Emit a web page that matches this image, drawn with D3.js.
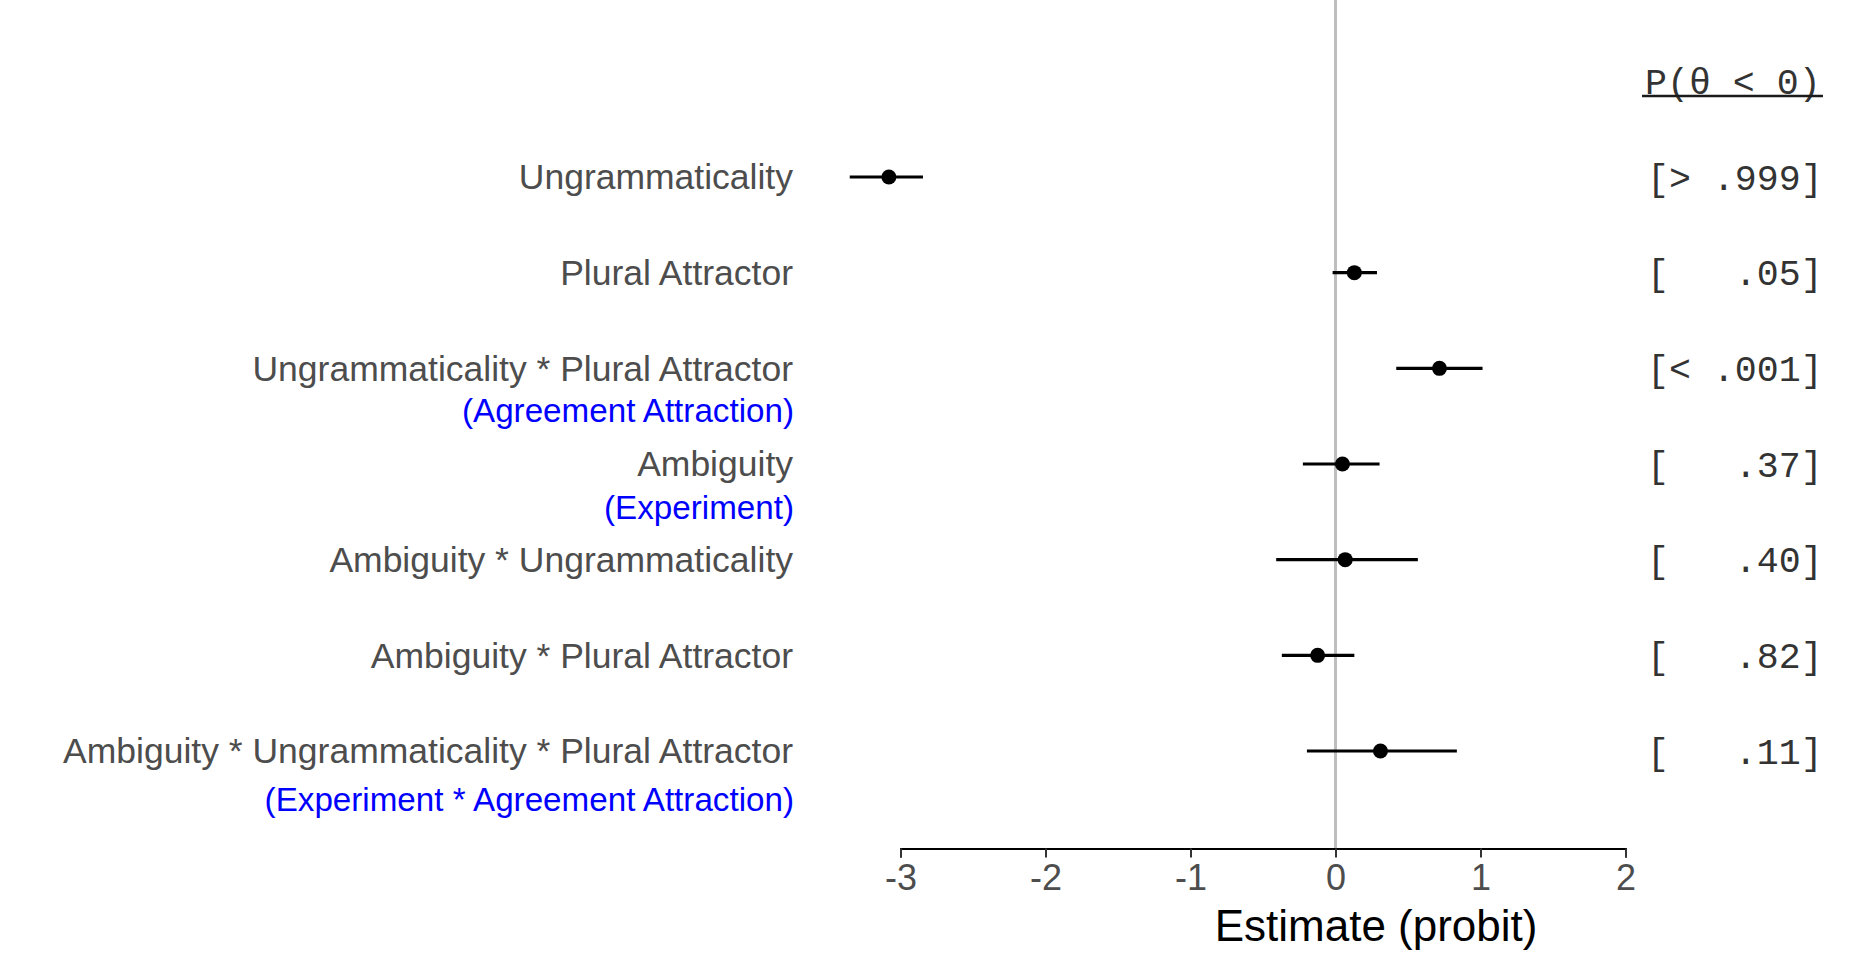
<!DOCTYPE html>
<html>
<head>
<meta charset="utf-8">
<script src="https://cdn.jsdelivr.net/npm/d3@7"></script>
<style>
body { margin: 0; background: #fff; }
svg { display: block; }
</style>
</head>
<body>
<svg id="graph" width="1866" height="963"></svg>
<script>
// model terms, top to bottom
var terms = ["Ungrammaticality", "Plural Attractor", "Ungrammaticality * Plural Attractor",
    "Ambiguity", "Ambiguity * Ungrammaticality", "Ambiguity * Plural Attractor",
    "Ambiguity * Ungrammaticality * Plural Attractor"];
var notes = ["", "", "(Agreement Attraction)", "(Experiment)", "", "", "(Experiment * Agreement Attraction)"];
var estimates = [-3.08, 0.13, 0.717, 0.048, 0.067, -0.123, 0.31];
var lower = [-3.35, -0.02, 0.419, -0.225, -0.409, -0.37, -0.197];
var upper = [-2.845, 0.286, 1.014, 0.304, 0.568, 0.13, 0.837];
var probs = ["[> .999]", "[   .05]", "[< .001]", "[   .37]", "[   .40]", "[   .82]", "[   .11]"];
var xTicks = [-3, -2, -1, 0, 1, 2];

var svg = d3.select("svg");
var x = d3.scaleLinear().domain([-3, 2]).range([900.5, 1625.5]);
var y = d3.scalePoint().domain(terms).range([177, 751]);
var axisY = 848.5;
var noteShift = [0, 0, 42, 43, 0, 0, 48];

// zero reference line
svg.append("line")
    .attr("x1", x(0)).attr("x2", x(0))
    .attr("y1", 0).attr("y2", axisY)
    .attr("stroke", "#bebebe").attr("stroke-width", 3);

var rows = terms.map(function(t, i) {
    return {term: t, est: estimates[i], lo: lower[i], hi: upper[i], note: notes[i], p: probs[i], i: i};
});

svg.selectAll("line.ci").data(rows).enter().append("line")
    .attr("class", "ci")
    .attr("x1", function(d) {return x(d.lo);})
    .attr("x2", function(d) {return x(d.hi);})
    .attr("y1", function(d) {return y(d.term);})
    .attr("y2", function(d) {return y(d.term);})
    .attr("stroke", "#000").attr("stroke-width", 3.2);

svg.selectAll("circle").data(rows).enter().append("circle")
    .attr("cx", function(d) {return x(d.est);})
    .attr("cy", function(d) {return y(d.term);})
    .attr("r", 7.5).attr("fill", "#000");

// term labels
svg.selectAll("text.term").data(rows).enter().append("text")
    .attr("class", "term")
    .attr("x", 793)
    .attr("y", function(d) {return y(d.term);})
    .attr("dy", "0.35em")
    .attr("text-anchor", "end")
    .attr("font-family", "Liberation Sans, Arial, sans-serif")
    .attr("font-size", 35.5)
    .attr("fill", "#4d4d4d")
    .text(function(d) {return d.term;});

svg.selectAll("text.note").data(rows.filter(function(d) {return d.note;})).enter().append("text")
    .attr("class", "note")
    .attr("x", 794)
    .attr("y", function(d) {return y(d.term) + noteShift[d.i];})
    .attr("dy", "0.35em")
    .attr("text-anchor", "end")
    .attr("font-family", "Liberation Sans, Arial, sans-serif")
    .attr("font-size", 33.2)
    .attr("fill", "#0000ff")
    .text(function(d) {return d.note;});

// probability column
svg.selectAll("text.prob").data(rows).enter().append("text")
    .attr("class", "prob")
    .attr("x", 1647)
    .attr("y", function(d) {return y(d.term);})
    .attr("dy", "0.35em")
    .attr("font-family", "Liberation Mono, Courier New, monospace")
    .attr("font-size", 36.6)
    .attr("fill", "#333")
    .style("white-space", "pre")
    .text(function(d) {return d.p;});

svg.append("text")
    .attr("x", 1645).attr("y", 81).attr("dy", "0.35em")
    .attr("font-family", "Liberation Mono, Courier New, monospace")
    .attr("font-size", 36.6)
    .attr("fill", "#333")
    .style("white-space", "pre")
    .text("P(θ < 0)");
svg.append("line")
    .attr("x1", 1642).attr("x2", 1823)
    .attr("y1", 96).attr("y2", 96)
    .attr("stroke", "#1a1a1a").attr("stroke-width", 2.5);

// x axis
var xAxis = d3.axisBottom(x).tickValues(xTicks)
    .tickFormat(function(d) {return d < 0 ? "-" + Math.abs(d) : String(d);})
    .tickSize(9).tickPadding(7);
var g = svg.append("g").attr("transform", "translate(0," + axisY + ")").call(xAxis);
g.select(".domain").attr("stroke", "#000").attr("stroke-width", 2);
g.selectAll(".tick line").attr("stroke", "#333").attr("stroke-width", 2);
g.selectAll(".tick text")
    .attr("font-family", "Liberation Sans, Arial, sans-serif")
    .attr("font-size", 36)
    .attr("fill", "#4d4d4d");

svg.append("text")
    .attr("x", x(0.28)).attr("y", 926).attr("dy", "0.35em")
    .attr("text-anchor", "middle")
    .attr("font-family", "Liberation Sans, Arial, sans-serif")
    .attr("font-size", 44)
    .attr("fill", "#000")
    .text("Estimate (probit)");
</script>
</body>
</html>
